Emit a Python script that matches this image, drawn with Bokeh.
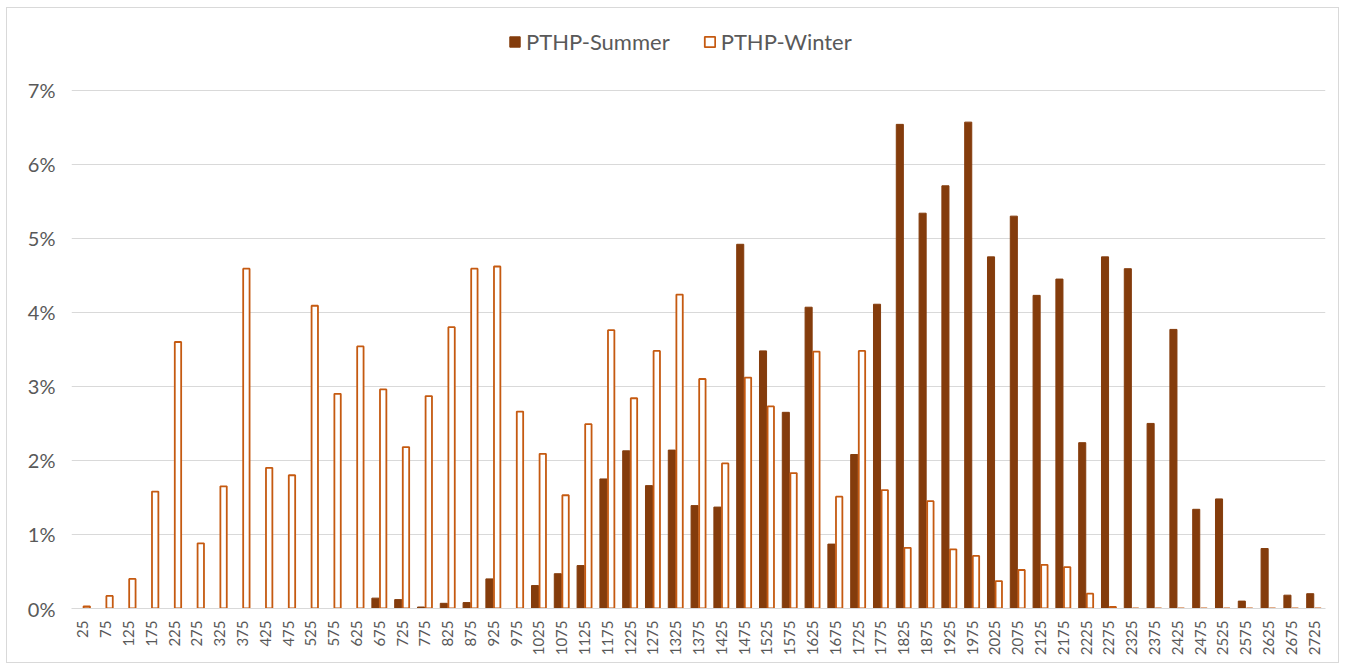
import numpy as np
from bokeh.plotting import figure
from bokeh.models import ColumnDataSource, FixedTicker, NumeralTickFormatter, Legend, LegendItem, Range1d
from bokeh.embed import file_html
from bokeh.resources import INLINE
from math import pi

categories = [str(v) for v in range(25, 2726, 50)]

summer = [0, 0, 0, 0, 0, 0, 0, 0, 0, 0, 0, 0, 0, 0.14, 0.12, 0.02, 0.07, 0.08, 0.40, 0,
          0.31, 0.47, 0.58, 1.75, 2.13, 1.66, 2.14, 1.39, 1.37, 4.92, 3.48, 2.65, 4.07, 0.87, 2.08, 4.11,
          6.54, 5.34, 5.71, 6.57, 4.75, 5.30, 4.23, 4.45, 2.24, 4.75, 4.59, 2.50, 3.77, 1.34, 1.48,
          0.10, 0.81, 0.18, 0.20]

winter = [0.03, 0.17, 0.40, 1.58, 3.60, 0.88, 1.65, 4.59, 1.90, 1.80, 4.09, 2.90, 3.54, 2.96, 2.18,
          2.87, 3.80, 4.59, 4.62, 2.66, 2.09, 1.53, 2.49, 3.76, 2.84, 3.48, 4.24, 3.10, 1.96, 3.12,
          2.73, 1.83, 3.47, 1.51, 3.48, 1.60, 0.82, 1.45, 0.80, 0.71, 0.37, 0.52, 0.59, 0.56, 0.20,
          0.02, 0, 0, 0, 0, 0, 0, 0, 0, 0]

y_ticks = [0, 0.01, 0.02, 0.03, 0.04, 0.05, 0.06, 0.07]

idx = list(range(len(categories)))
src = ColumnDataSource(dict(
    xs=[i - 0.17 for i in idx],
    xw=[i + 0.17 for i in idx],
    summer=[v / 100 for v in summer],
    winter=[v / 100 for v in winter],
))

FONT = "Lato"
GRAY = "#595959"

# frame extends above the 7% gridline to leave room for the legend (top-of-chart band)
p = figure(width=1333, height=656, output_backend="svg", toolbar_location=None,
           x_range=Range1d(-0.5, len(categories) - 0.5), y_range=Range1d(0, 0.0797),
           min_border_left=64, min_border_right=15, min_border_top=10, min_border_bottom=56)
p.styles = {"border": "1px solid #D9D9D9", "margin-left": "6px", "margin-top": "7px"}
p.outline_line_color = None

r_s = p.vbar(x="xs", top="summer", width=0.31, source=src, fill_color="#843C0C", line_color="#843C0C")
r_w = p.vbar(x="xw", top="winter", width=0.28, source=src, fill_color="white", line_color="#C55A11",
             line_width=1.8)

p.xaxis.ticker = FixedTicker(ticks=idx)
p.xaxis.major_label_overrides = {i: c for i, c in zip(idx, categories)}
p.xaxis.major_label_orientation = pi / 2
p.xaxis.major_label_text_font = FONT
p.xaxis.major_label_text_font_size = "15px"
p.xaxis.major_label_text_color = GRAY
p.xaxis.major_tick_line_color = None
p.xaxis.minor_tick_line_color = None
p.xaxis.axis_line_color = "#D9D9D9"
p.xaxis.axis_line_width = 1
p.xaxis.major_label_standoff = 6

p.yaxis.ticker = FixedTicker(ticks=y_ticks)
p.yaxis.formatter = NumeralTickFormatter(format="0%")
p.yaxis.major_label_text_font = FONT
p.yaxis.major_label_text_font_size = "20px"
p.yaxis.major_label_text_color = GRAY
p.yaxis.major_tick_line_color = None
p.yaxis.minor_tick_line_color = None
p.yaxis.axis_line_color = None
p.yaxis.major_label_standoff = 10

p.xgrid.grid_line_color = None
p.ygrid.grid_line_color = "#D9D9D9"
p.ygrid.grid_line_width = 1

legend = Legend(items=[LegendItem(label="PTHP-Summer", renderers=[r_s]),
                       LegendItem(label="PTHP-Winter", renderers=[r_w])],
                orientation="horizontal", location=(437, 553),
                label_text_font=FONT, label_text_font_size="22px", label_text_color=GRAY,
                glyph_width=13, glyph_height=13, spacing=33, label_standoff=5,
                border_line_color=None, background_fill_alpha=0)
p.add_layout(legend, "center")

open("out.html", "w").write(file_html(p, INLINE))
